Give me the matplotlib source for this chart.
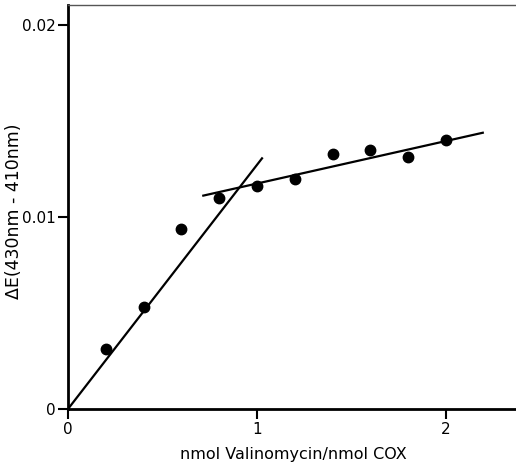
import matplotlib.pyplot as plt

# data
ratio = [0.2, 0.4, 0.6, 0.8, 1.0, 1.2, 1.4, 1.6, 1.8, 2.0]
delta_e = [0.0031, 0.0053, 0.0094, 0.0110, 0.0116, 0.0120, 0.0133, 0.0135, 0.0131, 0.0140]

# fitted lines (end points)
fit1_x = [0.0, 1.03]
fit1_y = [0.0, 0.0131]
fit2_x = [0.71, 2.20]
fit2_y = [0.0111, 0.0144]

fig = plt.figure(figsize=(5.16, 4.70), dpi=100)
ax = fig.add_axes([68 / 516, 1 - 409 / 470, 1 - 68 / 516, (409 - 5) / 470])

ax.plot(fit1_x, fit1_y, color='black', lw=1.6, solid_capstyle='butt')
ax.plot(fit2_x, fit2_y, color='black', lw=1.6, solid_capstyle='butt')
ax.plot(ratio, delta_e, 'o', color='black', markersize=7.5)

ax.set_xlim(0, 2.37)
ax.set_ylim(0, 0.02104)
ax.set_xticks([0, 1, 2])
ax.set_xticklabels(['0', '1', '2'])
ax.set_yticks([0, 0.01, 0.02])
ax.set_yticklabels(['0', '0.01', '0.02'])
ax.tick_params(direction='out', length=7, width=1.5, labelsize=11, color='black', pad=2)

for side in ['left', 'bottom']:
    ax.spines[side].set_linewidth(2)
ax.spines['top'].set_linewidth(1)
ax.spines['top'].set_color('#555555')
ax.spines['right'].set_visible(False)

ax.set_xlabel('nmol Valinomycin/nmol COX', fontsize=11.5)
ax.xaxis.set_label_coords(0.502, -0.095)
ax.set_ylabel('ΔE(430nm - 410nm)', fontsize=12.5)
ax.yaxis.set_label_coords(-0.10, 0.49)

fig.savefig('out.png', dpi=100)
